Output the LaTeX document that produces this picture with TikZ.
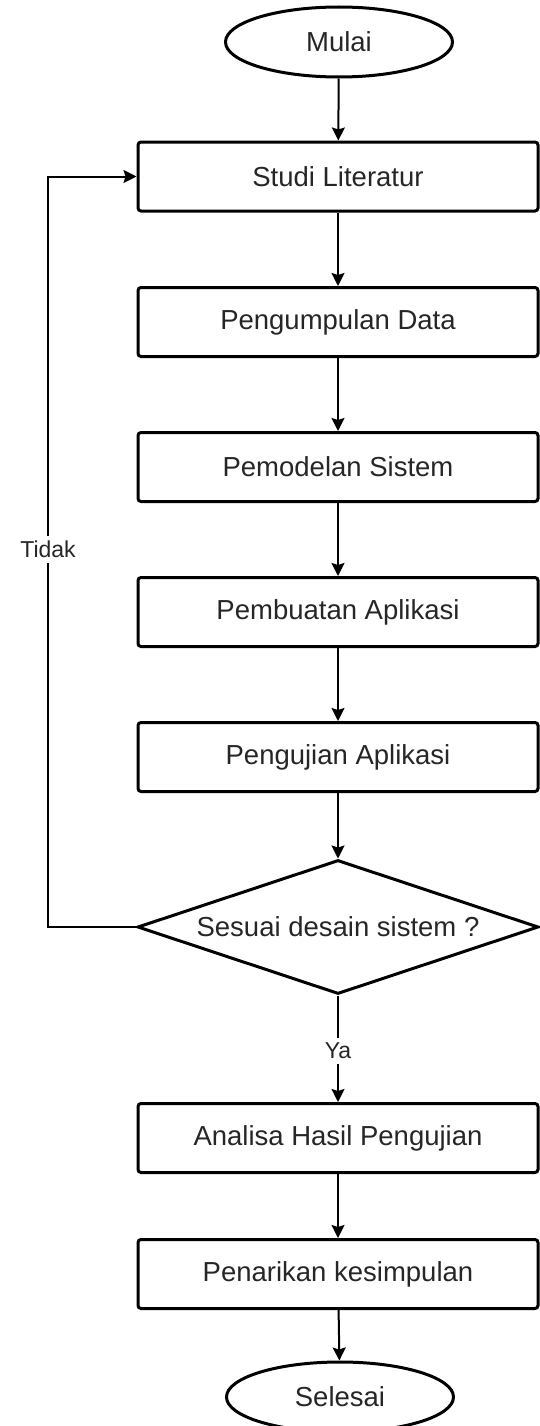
\documentclass[tikz,border=0pt]{standalone}
\usepackage{fontspec}
\setmainfont{Liberation Sans}
\usetikzlibrary{shapes.geometric,arrows.meta}
\begin{document}
\begin{tikzpicture}[x=1pt,y=-1pt,
  txt/.style={font=\fontsize{27.5}{33}\selectfont,text=black!85},
  box/.style={txt,draw,line width=3pt,rounded corners=3pt,minimum width=400pt,minimum height=69pt,inner sep=0pt},
  term/.style={txt,draw,ellipse,line width=3pt,minimum width=227pt,minimum height=70pt,inner sep=0pt},
  dec/.style={txt,draw,diamond,shape aspect=3,line width=3pt,minimum width=401pt,minimum height=134pt,inner sep=0pt},
  lbl/.style={fill=white,inner xsep=2pt,inner ysep=5pt,font=\fontsize{23}{27}\selectfont,text=black!85},
  conn/.style={line width=2pt,-{Stealth[length=13pt,width=13pt,inset=2pt]}}]
\useasboundingbox (0,0) rectangle (540,1426);
\node[term] (mulai) at (339,42) {Mulai};
\node[box] (studi) at (338,176.5) {Studi Literatur};
\node[box] (kumpul) at (338,322) {Pengumpulan Data};
\node[box] (model) at (338,467) {Pemodelan Sistem};
\node[box] (buat) at (338,612) {Pembuatan Aplikasi};
\node[box] (uji) at (338,757) {Pengujian Aplikasi};
\node[dec] (sesuai) at (338,927) {Sesuai desain sistem ?};
\node[box] (analisa) at (338,1138) {Analisa Hasil Pengujian};
\node[box] (tarik) at (338,1274) {Penarikan kesimpulan};
\node[term] (selesai) at (340,1397) {Selesai};
\coordinate (lc) at (48,927);
\draw[conn] (mulai) -- (studi);
\draw[conn] (studi) -- (kumpul);
\draw[conn] (kumpul) -- (model);
\draw[conn] (model) -- (buat);
\draw[conn] (buat) -- (uji);
\draw[conn] (uji) -- (sesuai);
\draw[conn] (sesuai.south) -- node[lbl,pos=0.52] {Ya} (analisa.north);
\draw[conn] (analisa) -- (tarik);
\draw[conn] (tarik) -- (selesai);
\draw[conn] (sesuai.west) -- (lc) -- node[lbl,pos=0.503] {Tidak} (lc |- studi.west) -- (studi.west);
\end{tikzpicture}
\end{document}
